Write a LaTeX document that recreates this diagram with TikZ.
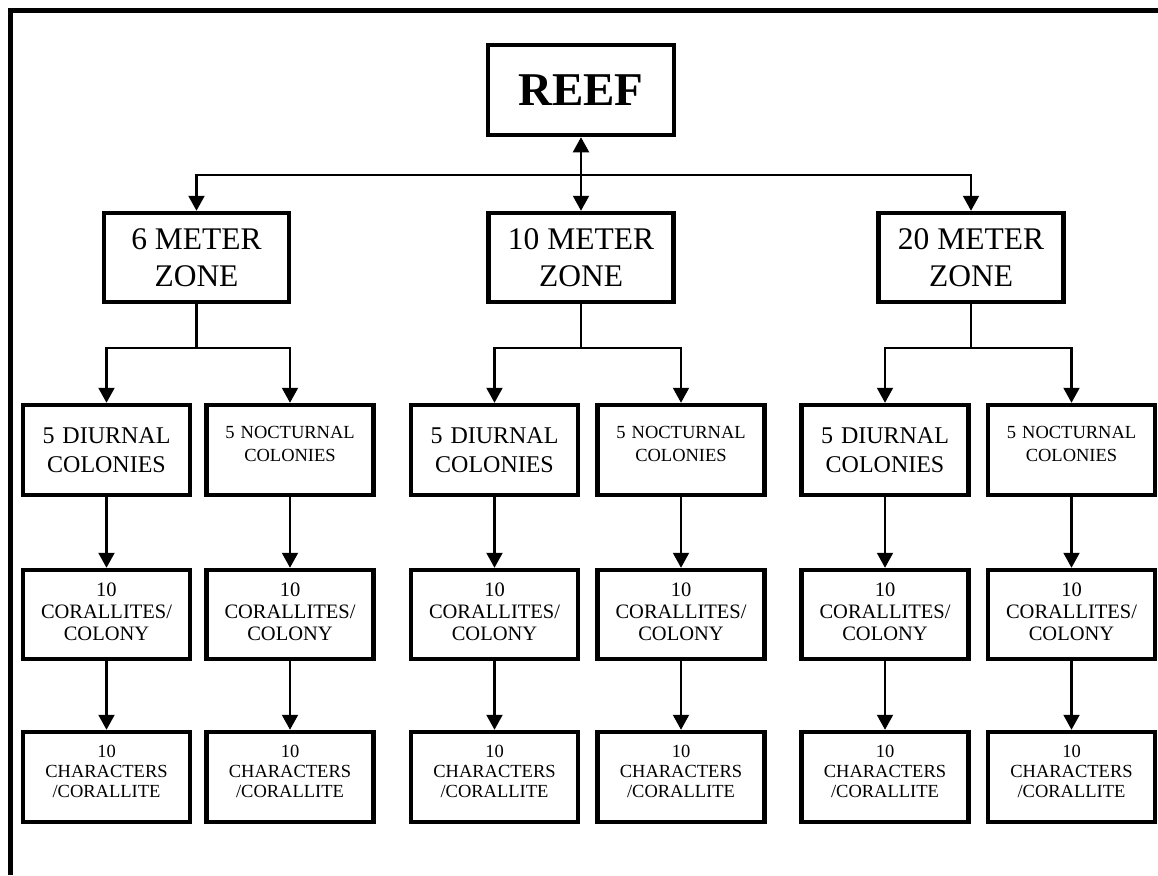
\documentclass[tikz,border=0pt]{standalone}
\usepackage{fontspec}
\setmainfont{Liberation Serif}
\usetikzlibrary{arrows.meta,positioning}
\newcommand\padlow[1]{\par\vspace{#1}}

\begin{document}
\begin{tikzpicture}[x=1pt,y=-1pt,>={Triangle[length=15pt,width=16pt]},
  box/.style={draw,line width=4.5pt,align=center,inner sep=0pt},
  link/.style={line width=2.1pt},
  zonebox/.style={box,minimum width=185pt,minimum height=89pt,font=\fontsize{31.5}{37}\selectfont},
  daybox/.style={box,minimum width=167pt,minimum height=90pt,text width=160pt,font=\fontsize{24}{29}\selectfont},
  nightbox/.style={box,minimum width=167pt,minimum height=90pt,text width=160pt,font=\fontsize{18.5}{23}\selectfont,execute at end node={\padlow{12pt}}},
  polypbox/.style={box,minimum width=167pt,minimum height=89pt,text width=160pt,font=\fontsize{20.5}{22}\selectfont,execute at end node={\padlow{6pt}}},
  traitbox/.style={box,minimum width=167pt,minimum height=90pt,text width=160pt,font=\fontsize{18.5}{20}\selectfont,execute at end node={\padlow{12pt}}}]
  \useasboundingbox (0,0) rectangle (1158,875);
  \draw[line width=4.5pt] (10.5,875) -- (10.5,10.5) -- (1158,10.5);
  % top
  \node[box,minimum width=186pt,minimum height=90pt,font=\fontsize{47}{56}\selectfont\bfseries] (reef) at (581,90) {REEF};
  \node[zonebox] (z6) at (196.5,257.5) {6 METER\\ZONE};
  \node[zonebox] (z10) at (581,257.5) {10 METER\\ZONE};
  \node[zonebox] (z20) at (971,257.5) {20 METER\\ZONE};
  \coordinate (top) at (581,175);
  \draw[<->,link] (reef) -- (z10);
  \draw[->,link] (top) -| (z6);
  \draw[->,link] (top) -| (z20);
  % colonies
  \node[daybox] (day6) at (106.5,450) {5 DIURNAL\\COLONIES};
  \node[nightbox] (nig6) at (290,450) {5 NOCTURNAL\\COLONIES};
  \node[daybox] (day10) at (494.5,450) {5 DIURNAL\\COLONIES};
  \node[nightbox] (nig10) at (681,450) {5 NOCTURNAL\\COLONIES};
  \node[daybox] (day20) at (885,450) {5 DIURNAL\\COLONIES};
  \node[nightbox] (nig20) at (1071.5,450) {5 NOCTURNAL\\COLONIES};
  \coordinate (fork6) at (196.5,348);
  \coordinate (fork10) at (581,348);
  \coordinate (fork20) at (971,348);
  \draw[link] (z6) -- (fork6);
  \draw[link] (z10) -- (fork10);
  \draw[link] (z20) -- (fork20);
  \draw[->,link] (fork6) -| (day6);
  \draw[->,link] (fork6) -| (nig6);
  \draw[->,link] (fork10) -| (day10);
  \draw[->,link] (fork10) -| (nig10);
  \draw[->,link] (fork20) -| (day20);
  \draw[->,link] (fork20) -| (nig20);
  % corallites
  \node[polypbox] (cor6d) at (106.5,614.5) {10\\CORALLITES/\\COLONY};
  \node[polypbox] (cor6n) at (290,614.5) {10\\CORALLITES/\\COLONY};
  \node[polypbox] (cor10d) at (494.5,614.5) {10\\CORALLITES/\\COLONY};
  \node[polypbox] (cor10n) at (681,614.5) {10\\CORALLITES/\\COLONY};
  \node[polypbox] (cor20d) at (885,614.5) {10\\CORALLITES/\\COLONY};
  \node[polypbox] (cor20n) at (1071.5,614.5) {10\\CORALLITES/\\COLONY};
  % characters
  \node[traitbox] (chr6d) at (106.5,777) {10\\CHARACTERS\\/CORALLITE};
  \node[traitbox] (chr6n) at (290,777) {10\\CHARACTERS\\/CORALLITE};
  \node[traitbox] (chr10d) at (494.5,777) {10\\CHARACTERS\\/CORALLITE};
  \node[traitbox] (chr10n) at (681,777) {10\\CHARACTERS\\/CORALLITE};
  \node[traitbox] (chr20d) at (885,777) {10\\CHARACTERS\\/CORALLITE};
  \node[traitbox] (chr20n) at (1071.5,777) {10\\CHARACTERS\\/CORALLITE};
  \draw[->,link] (day6) -- (cor6d);
  \draw[->,link] (nig6) -- (cor6n);
  \draw[->,link] (day10) -- (cor10d);
  \draw[->,link] (nig10) -- (cor10n);
  \draw[->,link] (day20) -- (cor20d);
  \draw[->,link] (nig20) -- (cor20n);
  \draw[->,link] (cor6d) -- (chr6d);
  \draw[->,link] (cor6n) -- (chr6n);
  \draw[->,link] (cor10d) -- (chr10d);
  \draw[->,link] (cor10n) -- (chr10n);
  \draw[->,link] (cor20d) -- (chr20d);
  \draw[->,link] (cor20n) -- (chr20n);
\end{tikzpicture}
\end{document}
